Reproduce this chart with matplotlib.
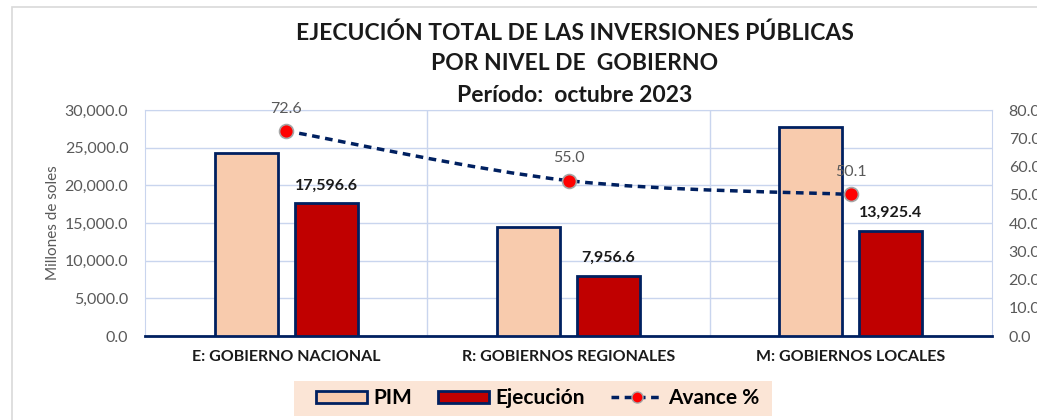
import numpy as np
import matplotlib
matplotlib.use('Agg')
import matplotlib.pyplot as plt
from matplotlib.path import Path
from matplotlib.patches import PathPatch, Rectangle, Patch
from matplotlib.lines import Line2D
from matplotlib.ticker import FuncFormatter

plt.rcParams['font.family'] = ['Lato', 'DejaVu Sans']

# data
categorias = ['E: GOBIERNO NACIONAL', 'R: GOBIERNOS REGIONALES', 'M: GOBIERNOS LOCALES']
pim = [24237.0, 14466.0, 27795.0]
ejecucion = [17596.6, 7956.6, 13925.4]
avance = [72.6, 55.0, 50.1]

navy = '#002060'
grid_c = '#C9D5EE'

fig = plt.figure(figsize=(10.37, 4.2), dpi=100)
# chart area border (light gray)
fig.patches.append(Rectangle((12 / 1037, -0.1), 1.2, 1 - 7 / 420 + 0.1, transform=fig.transFigure,
                             facecolor='none', edgecolor='#D9D9D9', lw=1.2, zorder=0))

ax = fig.add_axes([145 / 1037, 1 - 336 / 420, (992 - 145) / 1037, (336 - 110) / 420])
x = np.arange(len(categorias))
w = 0.223
off = 0.142
ax.bar(x - off, pim, w, color='#F8CBAD', edgecolor=navy, lw=2, zorder=3)
ax.bar(x + off, ejecucion, w, color='#C00000', edgecolor=navy, lw=2, zorder=3)
for xi, v in zip(x, ejecucion):
    ax.annotate(f'{v:,.1f}', (xi + off, v), xytext=(0, 8), textcoords='offset points',
                ha='center', va='bottom', fontsize=11.5, fontweight='bold', color='#1a1a1a')

ax.set_xlim(-0.5, 2.5)
ax.set_ylim(0, 30000)
ax.set_yticks(np.arange(0, 30001, 5000))
ax.yaxis.set_major_formatter(FuncFormatter(lambda v, p: f'{v:,.1f}'))
ax.set_xticks(x)
ax.set_xticklabels(categorias, fontsize=11.5, fontweight='bold', color='#1a1a1a')
ax.tick_params(axis='x', length=0, pad=10)
ax.tick_params(axis='y', length=0, pad=12, labelsize=11.5, labelcolor='#595959')
ax.set_ylabel('Millones de soles', fontsize=11, color='#595959', labelpad=3)
ax.grid(axis='y', color=grid_c, lw=1, zorder=0)
for b in [0.5, 1.5]:
    ax.axvline(b, color=grid_c, lw=1, zorder=0)
for s in ['left', 'right', 'top']:
    ax.spines[s].set_color(grid_c)
ax.spines['bottom'].set_color(navy)
ax.spines['bottom'].set_linewidth(2)

ax2 = ax.twinx()
ax2.set_ylim(0, 80)
ax2.set_yticks(np.arange(0, 81, 10))
ax2.yaxis.set_major_formatter(FuncFormatter(lambda v, p: f'{v:.1f}'))
ax2.tick_params(axis='y', length=0, pad=12, labelsize=11.5, labelcolor='#595959')
for s in ax2.spines.values():
    s.set_visible(False)

# smoothed line (Excel style bezier through the points)
pts = np.column_stack([x, avance]).astype(float)
verts = [pts[0]]
codes = [Path.MOVETO]
n = len(pts)
for i in range(n - 1):
    p_prev = pts[max(i - 1, 0)]
    p_next2 = pts[min(i + 2, n - 1)]
    c1 = pts[i] + (pts[i + 1] - p_prev) / 6
    c2 = pts[i + 1] - (p_next2 - pts[i]) / 6
    verts += [c1, c2, pts[i + 1]]
    codes += [Path.CURVE4] * 3
ax2.add_patch(PathPatch(Path(verts, codes), facecolor='none', edgecolor=navy, lw=2.5,
                        linestyle=(0, (2.2, 1.6)), zorder=4))
ax2.plot(x, avance, 'o', ms=10, color='#FF0000', mec='#A6A6A6', mew=1.2, zorder=5)
for xi, v in zip(x, avance):
    ax2.annotate(f'{v:.1f}', (xi, v), xytext=(0, 11), textcoords='offset points',
                 ha='center', va='bottom', fontsize=11.5, color='#595959')

title_kw = dict(ha='center', va='center', fontsize=16.5, fontweight='bold', color='#1a1a1a')
fig.text(575 / 1037, 1 - 33 / 420, 'EJECUCIÓN TOTAL DE LAS INVERSIONES PÚBLICAS', **title_kw)
fig.text(575 / 1037, 1 - 63 / 420, 'POR NIVEL DE  GOBIERNO', **title_kw)
fig.text(575 / 1037, 1 - 95 / 420, 'Período:  octubre 2023', **title_kw)

# legend
fig.patches.append(Rectangle((294 / 1037, 1 - 416 / 420), (772 - 294) / 1037, 35 / 420,
                             transform=fig.transFigure, facecolor='#FBE5D6', edgecolor='none'))
handles = [Patch(facecolor='#F8CBAD', edgecolor=navy, lw=2),
           Patch(facecolor='#C00000', edgecolor=navy, lw=2),
           Line2D([], [], color=navy, lw=2.5, linestyle=(0, (2.2, 1.6)),
                  marker='o', ms=8, mfc='#FF0000', mec='#A6A6A6')]
fig.legend(handles, ['PIM', 'Ejecución', 'Avance %'], loc='center', ncol=3,
           bbox_to_anchor=(538 / 1037, 1 - 398 / 420), frameon=False,
           prop={'size': 15, 'weight': 'bold'}, handlelength=2.45, handleheight=0.5,
           handletextpad=0.3, columnspacing=1.25)

fig.savefig('out.png', dpi=100)
